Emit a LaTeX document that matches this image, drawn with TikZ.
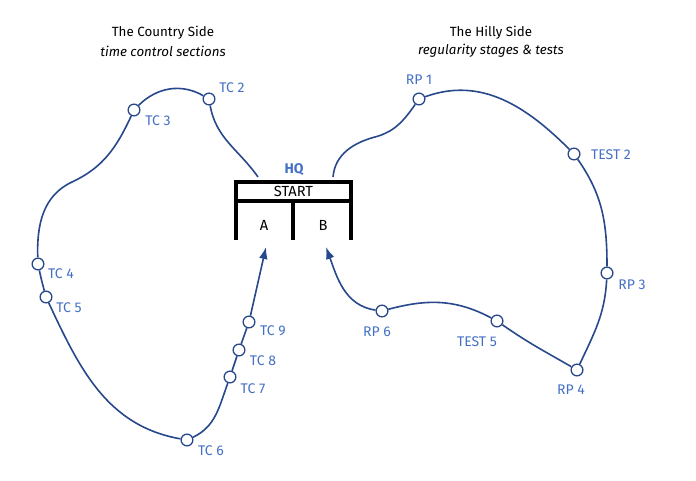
\documentclass[tikz,border=0pt]{standalone}
\usepackage{fontspec}
\setmainfont{Fira Sans}
\usetikzlibrary{arrows.meta,positioning}
\definecolor{routeblue}{RGB}{40,72,140}
\definecolor{labelblue}{RGB}{68,112,196}

\begin{document}
\begin{tikzpicture}[x=0.75pt,y=0.75pt,
    route/.style={draw=routeblue,line width=1.2pt},
    post/.style={circle,draw=routeblue,fill=white,line width=1pt,inner sep=0pt,minimum size=8.8pt},
    lbl/.style={text=labelblue,font=\fontsize{10.5}{12}\selectfont},
    hqline/.style={line width=2.4pt,black}]

    \useasboundingbox (0,0) rectangle (696,-481);

    % Titles
    \node[font=\fontsize{10}{12}\selectfont] (ctitle) at (163,-33) {The Country Side};
    \node[font=\fontsize{10}{12}\itshape] (csub) at (163,-51) {time control sections};
    \node[font=\fontsize{10}{12}\selectfont] (htitle) at (491,-33) {The Hilly Side};
    \node[font=\fontsize{10}{12}\itshape] (hsub) at (491,-51) {regularity stages \& tests};

    % HQ box
    \draw[hqline] (236,-240) -- (236,-182) -- (351,-182) -- (351,-240);
    \draw[hqline] (236,-201) -- (351,-201);
    \draw[hqline] (293,-201) -- (293,-240);
    \node[font=\fontsize{11}{12}\selectfont] (start) at (293.5,-191.5) {START};
    \node[font=\fontsize{11}{12}\selectfont] (secA) at (264,-225) {A};
    \node[font=\fontsize{11}{12}\selectfont] (secB) at (323,-225) {B};
    \node[lbl,font=\fontsize{10.5}{12}\bfseries] (hq) at (294,-170) {HQ};

    % Route ends at the HQ
    \coordinate (outA) at (258,-177);
    \coordinate (inA) at (266,-247);
    \coordinate (outB) at (333,-177);
    \coordinate (inB) at (326,-247);
    \coordinate (wayL) at (72,-182);
    \coordinate (wayR) at (375,-137);

    % Time controls
    \node[post] (tc2) at (209,-99) {};
    \node[post] (tc3) at (134,-110) {};
    \node[post] (tc4) at (38,-264) {};
    \node[post] (tc5) at (46,-297) {};
    \node[post] (tc6) at (187,-440) {};
    \node[post] (tc7) at (230,-377) {};
    \node[post] (tc8) at (239,-350) {};
    \node[post] (tc9) at (249,-322) {};

    % Regularity posts
    \node[post] (rp1) at (419,-99) {};
    \node[post] (test2) at (574,-154) {};
    \node[post] (rp3) at (607,-273) {};
    \node[post] (rp4) at (577,-370) {};
    \node[post] (test5) at (497,-321) {};
    \node[post] (rp6) at (382,-311) {};

    % Labels
    \node[lbl] (tc2l) at (232,-88) {TC 2};
    \node[lbl] (tc3l) at (158,-121) {TC 3};
    \node[lbl] (tc4l) at (61,-274) {TC 4};
    \node[lbl] (tc5l) at (69,-308) {TC 5};
    \node[lbl] (tc6l) at (211,-451) {TC 6};
    \node[lbl] (tc7l) at (253,-389) {TC 7};
    \node[lbl] (tc8l) at (263,-361) {TC 8};
    \node[lbl] (tc9l) at (273,-331) {TC 9};
    \node[lbl] (rp1l) at (419,-80) {RP 1};
    \node[lbl] (test2l) at (611,-155) {TEST 2};
    \node[lbl] (rp3l) at (632,-285) {RP 3};
    \node[lbl] (rp4l) at (571,-390) {RP 4};
    \node[lbl] (test5l) at (477,-342) {TEST 5};
    \node[lbl] (rp6l) at (377,-332) {RP 6};

    % The country loop
    \draw[route,-{Latex[length=9pt,width=6.5pt]}] (outA) to[out=125,in=-80] (tc2)
        to[out=150,in=45] (tc3)
        to[out=-115,in=25] (wayL)
        to[out=-155,in=92] (tc4)
        to[out=-78,in=105] (tc5)
        to[out=-65,in=170] (tc6)
        to[out=25,in=-110] (tc7)
        -- (tc8) -- (tc9) -- (inA);

    % The hilly loop
    \draw[route,-{Latex[length=9pt,width=6.5pt]}] (outB) to[out=85,in=-165] (wayR)
        to[out=15,in=-125] (rp1)
        to[out=20,in=135] (test2)
        to[out=-55,in=90] (rp3)
        to[out=-93,in=65] (rp4)
        to[out=150,in=-35] (test5)
        to[out=152,in=15] (rp6)
        to[out=172,in=-70] (inB);

\end{tikzpicture}
\end{document}
